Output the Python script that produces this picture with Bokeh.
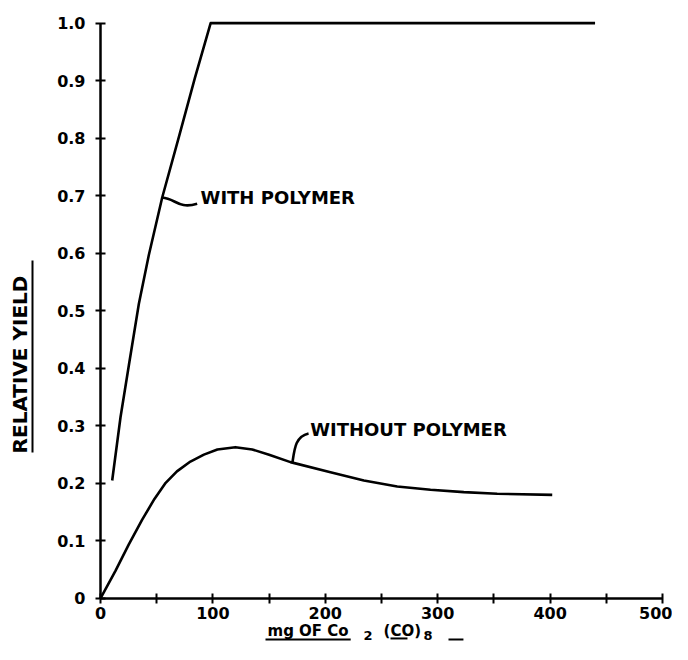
import math
from bokeh.plotting import figure
from bokeh.models import LinearAxis, FixedTicker, Range1d
from bokeh.core.properties import value
from bokeh.embed import file_html
from bokeh.resources import INLINE

# ---- data ----
with_x = [10.4, 17.8, 25.2, 34.1, 43.0, 54.9, 69.7, 84.0, 98.0, 440]
with_y = [0.205, 0.315, 0.405, 0.512, 0.597, 0.697, 0.802, 0.905, 1.000, 1.000]

without_x = [0, 13.3, 25.2, 37.1, 48, 58, 68, 80, 92, 104, 120, 135, 150,
             169.0, 204.6, 234.3, 264.0, 293.6, 323.2, 352.9, 401.9]
without_y = [0, 0.048, 0.094, 0.137, 0.173, 0.201, 0.221, 0.238, 0.250, 0.259,
             0.263, 0.259, 0.250, 0.237, 0.2195, 0.205, 0.1947, 0.189, 0.1848,
             0.182, 0.180]

x_ticks = [0, 100, 200, 300, 400, 500]
x_minor = [50, 150, 250, 350, 450]
y_ticks = [0, 0.1, 0.2, 0.3, 0.4, 0.5, 0.6, 0.7, 0.8, 0.9, 1.0]
y_tick_labels = ["0", "0.1", "0.2", "0.3", "0.4", "0.5", "0.6", "0.7", "0.8", "0.9", "1.0"]

curve_labels = ["WITH POLYMER", "WITHOUT POLYMER"]
label_x = [89, 186.5]
label_y = [0.697, 0.294]

# leader curves (bezier) from each curve to its label
lead_x0 = [54.9, 170.8]
lead_y0 = [0.697, 0.2364]
lead_cx0 = [66.7, 172.6]
lead_cy0 = [0.6952, 0.2607]
lead_cx1 = [69.4, 173.5]
lead_cy1 = [0.6761, 0.2816]
lead_x1 = [86.0, 185.1]
lead_y1 = [0.6861, 0.2868]

y_title = "RELATIVE YIELD"
x_title_main = ["mg OF Co", "(CO)"]
x_title_main_x = [148.6, 251.8]
x_title_sub = ["2", "8"]
x_title_sub_x = [234.0, 287.4]

FONT = value("DejaVu Sans")

p = figure(width=672, height=644,
           x_range=Range1d(-88.97, 508.9), y_range=Range1d(-0.0800, 1.0394),
           x_axis_location=None, y_axis_location=None,
           toolbar_location=None, output_backend="svg", min_border=0)
p.outline_line_color = None
p.background_fill_color = "white"
p.border_fill_color = "white"
p.grid.visible = False

xa = LinearAxis(fixed_location=0, bounds=(0, 500),
                ticker=FixedTicker(ticks=x_ticks, minor_ticks=x_minor))
ya = LinearAxis(fixed_location=0, bounds=(0, 1),
                ticker=FixedTicker(ticks=y_ticks, minor_ticks=[]),
                major_label_overrides=dict(zip(y_ticks, y_tick_labels)))
for ax in (xa, ya):
    ax.axis_line_width = 2.5
    ax.axis_line_color = "black"
    ax.major_tick_line_width = 2
    ax.minor_tick_line_width = 2
    ax.major_tick_in = 5
    ax.major_tick_out = 5
    ax.minor_tick_in = 5
    ax.minor_tick_out = 5
    ax.major_label_text_font = "DejaVu Sans"
    ax.major_label_text_font_style = "bold"
    ax.major_label_text_font_size = "16px"
    ax.major_label_text_color = "black"
xa.major_label_standoff = 4
ya.major_label_standoff = 10
p.add_layout(xa, "below")
p.add_layout(ya, "left")

p.line(with_x, with_y, line_width=2.6, line_color="black", line_join="round")
p.line(without_x, without_y, line_width=2.6, line_color="black", line_join="round")

p.bezier(x0=lead_x0, y0=lead_y0, x1=lead_x1, y1=lead_y1,
         cx0=lead_cx0, cy0=lead_cy0, cx1=lead_cx1, cy1=lead_cy1,
         line_width=2.6, line_color="black")

p.text(x=label_x, y=label_y, text=curve_labels, text_font=FONT,
       text_font_style="bold", text_font_size="18px",
       text_align="left", text_baseline="middle", text_color="black")

# y-axis title and its underline
p.text(x=[-72.06], y=[0.4067], text=[y_title], angle=math.pi / 2,
       text_font=FONT, text_font_style="bold", text_font_size="20px",
       text_align="center", text_baseline="middle", text_color="black")
p.segment(x0=[-60.5], y0=[0.2538], x1=[-60.5], y1=[0.5875],
          line_width=2, line_color="black")

# x-axis title with subscripts and underlines
p.text(x=x_title_main_x, y=[-0.0574, -0.0574], text=x_title_main, text_font=FONT,
       text_font_style="bold", text_font_size="15px",
       text_align="left", text_baseline="alphabetic", text_color="black")
p.text(x=x_title_sub_x, y=[-0.0643, -0.0643], text=x_title_sub, text_font=FONT,
       text_font_style="bold", text_font_size="13px",
       text_align="left", text_baseline="alphabetic", text_color="black")
p.segment(x0=[146.8, 258.0, 309.6], y0=[-0.0713, -0.0695, -0.0713],
          x1=[222.6, 273.1, 322.9], y1=[-0.0713, -0.0695, -0.0713],
          line_width=2, line_color="black")

open("out.html", "w").write(file_html(p, INLINE))
